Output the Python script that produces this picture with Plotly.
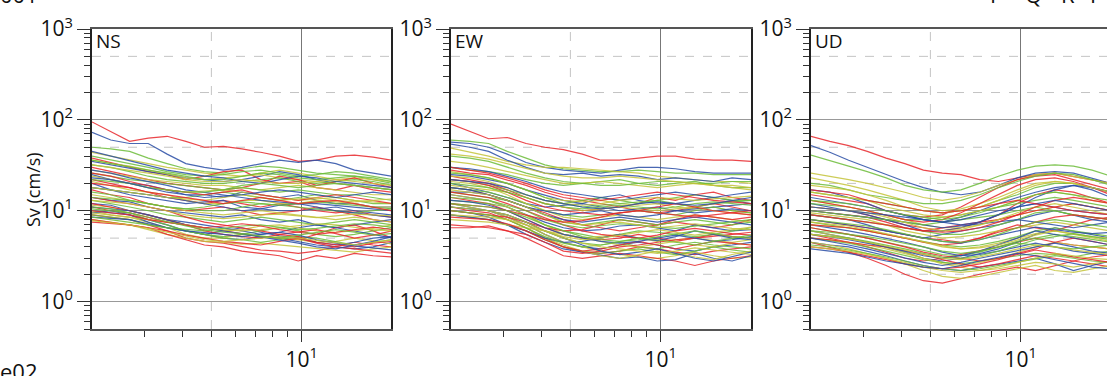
import math
import plotly.graph_objects as go

# ---------------- data ----------------
PERIOD = [2.00, 2.31, 2.67, 3.08, 3.56, 4.11, 4.74, 5.48, 6.32, 7.30, 8.43, 9.74, 11.2, 13.0, 15.0, 17.3, 20.0]

NS_RED = [
    [95, 75, 58, 63, 66, 58, 50, 51, 48, 44, 40, 35, 36, 40, 41, 39, 36],
    [38, 34, 30, 27, 25, 22, 24, 27, 28, 22, 20, 21, 18, 17, 19, 17, 16],
    [30, 27, 24, 22, 20, 19, 18, 17, 18, 20, 24, 22, 19, 21, 23, 20, 18],
    [22, 20, 18, 16, 14, 13, 12, 13, 12, 11, 12, 11, 10, 9.5, 10, 9, 8.5],
    [17, 15, 14, 12, 11, 10, 10.5, 11, 10, 9, 9.5, 10, 11, 10, 9, 8, 7.5],
    [11, 10, 9.5, 8.5, 7.5, 7, 6.5, 6, 5.5, 5.2, 5, 4.8, 5.5, 6.5, 7, 6, 5],
    [9, 8.5, 8, 7, 6, 5, 4.6, 4.4, 4, 3.7, 3.6, 3.4, 3.6, 4, 4.5, 4.2, 4],
    [8, 7.5, 7, 6.5, 5.5, 4.8, 4.2, 4, 3.6, 3.4, 3.2, 2.8, 3.2, 3, 3.4, 3.2, 3.1],
    [12, 11, 10, 9, 8, 7, 6, 5.5, 5.2, 5, 5.5, 5.2, 4.5, 4.2, 4, 4.4, 4.6],
    [26, 24, 21, 19, 17, 16, 15, 16, 17, 15, 14, 13, 14, 15, 14, 13, 12],
    [14, 13, 12, 11, 10, 8.5, 7.5, 7, 6.5, 6, 5.5, 5.8, 6.2, 5.6, 5, 5.4, 6],
    [7.5, 7.2, 7, 6.5, 6, 5.4, 5, 4.6, 4.4, 4.2, 4.6, 5, 4.4, 4, 3.8, 3.6, 3.4],
    [20, 19, 18, 16, 15, 14, 13, 12, 13, 14, 13, 12, 12.5, 13, 12, 11, 10],
    [10, 9.5, 9, 8, 7.5, 7, 6.5, 6.8, 7.2, 6.8, 6.2, 5.8, 5.5, 5.8, 6.2, 6.6, 6.2],
]
NS_BLUE = [
    [73, 60, 55, 55, 42, 33, 30, 28, 30, 33, 36, 34, 36, 33, 28, 26, 24],
    [35, 32, 29, 27, 25, 23, 22, 21, 22, 24, 27, 25, 22, 20, 19, 18, 17],
    [25, 22, 20, 19, 17, 15, 15, 14, 16, 15, 14, 15, 13, 12, 12, 11, 11],
    [20, 17, 15, 14, 13, 12, 12.5, 13, 11, 10.5, 10, 10, 10.5, 11, 10, 9.5, 9],
    [14, 13, 12.5, 11, 10, 9.5, 9, 8.5, 9, 8, 7.5, 8, 7, 6.5, 7, 7.5, 8],
    [10, 9.5, 9, 8, 7, 6, 5.5, 5, 4.8, 5.2, 5, 4.6, 4.2, 4, 3.8, 4, 4.5],
    [9.5, 10, 9, 7.5, 6.5, 6, 5.5, 6, 6.5, 5.8, 5.3, 5, 4.5, 4.2, 4.5, 5, 5.2],
    [12, 11.5, 10, 9, 8, 7.5, 7, 6.5, 6, 5.5, 5.8, 6.5, 7, 6.5, 6, 5.5, 5],
    [28, 26, 23, 21, 19, 17, 16, 15, 14, 13, 12.5, 12, 12, 11.5, 11, 10.5, 10],
    [45, 40, 36, 32, 28, 26, 24, 23, 21, 20, 22, 24, 23, 21, 20, 19, 18],
    [18, 17, 16, 15, 14, 13, 12, 11, 10, 10.5, 11.5, 12, 11, 10, 9.5, 9, 8.5],
    [11, 10.5, 10, 9, 8, 7, 6.5, 6, 5.6, 5.2, 4.8, 4.4, 4.0, 3.8, 4.2, 4.6, 5.2],
    [8.5, 8.2, 8, 7.2, 6.5, 6, 5.8, 5.5, 5.2, 5.5, 5.8, 5.4, 4.8, 4.4, 4.1, 3.9, 3.7],
    [23, 22, 20, 18, 16, 15, 14, 14.5, 15, 16, 17, 16, 15, 14, 15, 16, 15],
]
NS_GREEN = [
    [50, 48, 45, 38, 33, 29, 27, 26, 29, 31, 30, 28, 26, 25, 24, 22, 20],
    [40, 36, 33, 30, 27, 25, 24, 25, 27, 28, 26, 24, 25, 27, 26, 24, 22],
    [32, 30, 27, 24, 22, 21, 20, 20, 21, 22, 23, 21, 20, 21, 22, 21, 19],
    [26, 24, 22, 21, 20, 19, 18, 17, 18, 17, 16, 17, 16, 15, 15, 14, 13],
    [18, 17, 16, 15, 14, 14, 15, 16, 15, 14, 13, 14, 15, 14, 13, 12, 12],
    [13, 12, 11, 10, 9, 8.5, 8, 7.5, 8, 8.5, 8, 7.5, 7, 7.5, 8, 7.5, 7],
    [10.5, 10, 9.5, 8, 7, 6, 5.5, 5.2, 5.5, 6, 6.5, 6, 5.5, 5.2, 5.5, 6, 6.5],
    [9, 8.5, 8, 7, 6.5, 6, 5.5, 5, 4.8, 4.5, 4.8, 5.2, 5, 4.6, 4.2, 4.5, 4.8],
    [16, 15, 13, 12, 11, 10.5, 10, 10, 11, 12, 11.5, 11, 10.5, 10, 9.5, 10, 10.5],
    [36, 33, 30, 28, 26, 24, 22, 22, 24, 26, 25, 23, 22, 23, 24, 23, 21],
    [22, 21, 20, 18, 17, 16, 16, 17, 19, 20, 19, 18, 19, 20, 19, 18, 17],
    [14, 13.5, 13, 12, 11, 10.5, 11, 12, 12.5, 12, 11.5, 12, 12.5, 12, 11.5, 11, 10.5],
    [8.5, 8, 7.5, 7, 6.5, 6.2, 6, 6.4, 6.8, 7, 6.6, 6.2, 6.4, 6.8, 7.2, 7, 6.6],
    [11, 10.5, 9.5, 8.5, 7.5, 6.8, 6.2, 5.8, 5.6, 5.3, 5.0, 5.4, 5.8, 6.2, 5.8, 5.4, 5.6],
]
NS_YELLOW = [
    [44, 40, 36, 33, 30, 28, 26, 25, 24, 26, 28, 26, 24, 22, 23, 22, 21],
    [36, 33, 31, 28, 25, 23, 22, 23, 24, 25, 23, 22, 21, 20, 19, 18, 17],
    [28, 26, 24, 22, 21, 20, 19, 19, 18, 17, 18, 19, 18, 17, 16, 15, 15],
    [21, 19, 17, 16, 15, 13, 12, 12, 13, 13, 12, 12, 13, 12.5, 12, 11, 11],
    [15, 14, 13, 12, 11, 10, 9.5, 9, 9.5, 10, 9.5, 9, 8.5, 8, 8.5, 8, 7.5],
    [10, 9, 8.5, 7.5, 6.5, 5.5, 5, 5, 5.5, 5.2, 5, 4.8, 4.5, 4.6, 5, 4.7, 4.3],
    [8, 7.5, 7, 6.2, 5.5, 5, 4.6, 4.5, 4.3, 4.4, 4.2, 4, 3.8, 3.6, 3.5, 3.8, 4],
    [11.5, 11, 10, 9, 8, 7, 6.5, 6, 6.2, 6.8, 7, 6.5, 6, 5.8, 6, 6.4, 7],
    [24, 22, 20, 18, 17, 16, 16.5, 17, 16, 15, 14, 13, 13.5, 14, 13, 12.5, 12],
    [32, 30, 28, 26, 24, 22, 21, 21, 22, 21, 20, 20, 21, 22, 21, 20, 19],
    [18, 17, 16, 15, 14, 13.5, 13, 14, 15, 14, 13, 13.5, 14, 13, 12.5, 13, 13.5],
    [9.5, 9, 8.5, 8, 7.5, 7, 6.5, 6.2, 6, 6.2, 6.5, 6.8, 7.2, 7, 6.6, 6.2, 6],
    [7.8, 7.4, 7, 6.4, 5.8, 5.2, 4.8, 4.6, 4.8, 5, 5.2, 5, 4.7, 4.4, 4.2, 4.5, 4.8],
    [13, 12.5, 12, 11, 10, 9, 8.5, 8.2, 8.5, 9, 9.2, 8.8, 8.4, 8.8, 9.2, 9, 8.8],
]

EW_RED = [
    [90, 75, 62, 64, 55, 50, 47, 42, 36, 36, 38, 40, 40, 37, 36, 36, 35],
    [28, 26, 25, 22, 19, 16, 14, 13, 12, 11, 12, 14, 13, 15, 16, 14, 13],
    [24, 22, 20, 17, 14, 12, 11, 10, 10.5, 11, 10, 9.5, 10, 11, 12, 11, 10],
    [18, 17, 15, 13, 11, 9.5, 8, 7, 6.5, 6, 6.5, 7, 7.5, 7, 6.5, 7, 8],
    [14, 13, 12, 10, 8, 6.5, 5.5, 5, 4.8, 5, 5.5, 5, 4.6, 5, 5.5, 5.2, 5],
    [11, 10, 9.5, 8, 6.5, 5, 4, 3.5, 3.4, 3.6, 4, 3.8, 3.5, 3.3, 3.6, 3.8, 4],
    [7, 6.8, 6.5, 6, 5, 4, 3.2, 3, 3.2, 3.4, 3.2, 3, 2.8, 2.5, 2.8, 3.0, 3.2],
    [6.5, 6.5, 6.8, 6, 5.5, 4.5, 3.6, 3.4, 3.6, 4, 4.2, 4.5, 4.8, 5, 5.2, 5.5, 5.8],
    [10, 9.5, 9, 8.5, 7.5, 6.5, 6, 6.2, 7, 8, 7.5, 7, 8, 9, 8.5, 8, 8.5],
    [22, 21, 19, 16, 13, 11, 10, 9.5, 9, 9.5, 10, 11, 12, 11, 10, 9.5, 9],
    [16, 15, 14, 12, 10, 8.5, 7, 6, 5.5, 5.2, 5, 5.4, 6, 6.4, 6, 5.6, 5.4],
    [8.5, 8.2, 8, 7.2, 6, 4.8, 4, 3.6, 3.8, 4.2, 4.6, 4.2, 3.8, 4.2, 4.6, 4.4, 4.2],
    [12, 11.5, 11, 10, 9, 8, 7.5, 7.8, 8.5, 9.5, 10, 9.5, 9, 8.5, 9, 9.5, 10],
    [30, 28, 26, 23, 20, 17, 15, 14, 13, 14, 15, 16, 15, 14, 13, 12.5, 12],
]
EW_BLUE = [
    [57, 55, 50, 42, 34, 30, 28, 27, 26, 28, 30, 30, 29, 27, 26, 26, 26],
    [54, 50, 45, 36, 30, 26, 25, 26, 24, 25, 24, 22, 23, 22, 21, 23, 22],
    [25, 24, 22, 20, 17, 15, 13, 12, 14, 15, 13, 12, 12, 13, 14, 13, 12],
    [20, 18, 16, 14, 12, 11, 11.5, 12, 11, 10, 10.5, 11, 10, 10.5, 11, 11.5, 12],
    [15, 14, 13, 11, 9, 7.5, 6.5, 6, 6.2, 6.8, 7, 6.5, 6, 7, 6.5, 6, 6.2],
    [12, 11, 10, 8.5, 7, 5.5, 4.5, 4, 3.8, 4.2, 4.5, 4.2, 3.8, 3.6, 4, 4.2, 4.5],
    [10, 9.5, 8.5, 7, 5.5, 4.5, 3.8, 3.5, 3.2, 3.0, 3.1, 2.8, 2.9, 3.4, 3.0, 2.8, 3.2],
    [9, 8.5, 8, 7, 6, 5, 4.5, 4.6, 5, 5.5, 5, 4.7, 5.2, 6, 5.5, 5, 4.8],
    [16, 16, 15, 13, 11, 10, 9, 9.5, 10, 9, 8.5, 9, 10, 9.5, 10, 10.5, 10],
    [30, 29, 27, 24, 21, 18, 16, 15, 14, 13, 14, 15, 16, 15, 14, 15, 16],
    [18, 17, 15, 13, 11, 9, 8, 7.5, 8, 8.5, 8, 7.5, 8, 8.5, 8, 7.5, 7],
    [13, 12.5, 11.5, 10, 8, 6.5, 5.5, 5, 4.6, 4.4, 4.6, 5, 5.4, 5, 4.6, 4.8, 5.2],
    [11, 10.5, 10, 9, 7.5, 6, 5, 4.2, 3.6, 3.3, 3.5, 3.8, 3.4, 3.0, 2.8, 3.1, 3.5],
    [22, 21, 20, 18, 15, 13, 12, 11, 10.5, 11, 12, 12.5, 12, 11.5, 12, 13, 14],
]
EW_GREEN = [
    [60, 58, 55, 45, 38, 32, 29, 28, 27, 27, 28, 27, 26, 26, 25, 25, 25],
    [30, 28, 27, 25, 22, 20, 19, 20, 21, 22, 20, 19, 20, 21, 19, 18, 18],
    [22, 21, 19, 17, 15, 13, 12, 13, 14, 13, 12, 13, 14, 15, 14, 13, 13],
    [18, 17, 16, 14, 12, 10, 9, 8.5, 9, 9.5, 10, 9.5, 9, 10, 11, 10, 9.5],
    [13, 12.5, 12, 11, 9, 7, 6, 5.5, 5, 5.5, 6, 5.8, 5.5, 5.2, 5.5, 6, 6.5],
    [11, 10.5, 10, 9, 7.5, 6, 5, 4.4, 4.2, 4.5, 4, 3.8, 4.2, 4.5, 4.2, 4, 3.8],
    [9, 8.5, 8, 7, 6, 4.8, 4, 3.6, 3.4, 3.6, 3.8, 3.5, 3.3, 3.6, 4, 3.7, 3.5],
    [26, 25, 23, 20, 17, 14, 12, 11, 11.5, 12, 12.5, 13, 12, 11, 12, 12.5, 13],
    [16, 15, 14, 13, 11, 9, 7.5, 7, 7.5, 8, 7.5, 7, 7.5, 8, 7.5, 7, 7.5],
    [40, 38, 35, 30, 26, 23, 21, 20, 19, 19, 20, 21, 21, 20, 20, 21, 21],
    [20, 19, 18, 16, 14, 12, 11, 10.5, 11, 11.5, 11, 10.5, 11, 12, 12.5, 12, 11.5],
    [14, 13.5, 13, 11.5, 10, 8, 7, 6.5, 6.8, 7.2, 7, 6.6, 6.4, 6.8, 7.2, 7.6, 8],
    [10, 9.5, 9, 8, 6.5, 5.2, 4.4, 4, 4.2, 4.6, 5, 4.8, 4.5, 4.2, 4.6, 5, 5.4],
    [12, 11.5, 11, 10, 8.5, 7, 6, 5.2, 4.8, 4.6, 4.8, 5.2, 5.6, 6, 5.6, 5.2, 5],
]
EW_YELLOW = [
    [49, 44, 40, 35, 32, 30, 30, 29, 28, 27, 26, 24, 23, 22, 21, 21, 20],
    [35, 33, 30, 27, 24, 22, 20, 20, 21, 20, 19, 18, 19, 20, 19, 18, 17],
    [27, 25, 23, 20, 17, 14, 13, 12.5, 13, 12, 11.5, 12, 11, 10.5, 11, 10, 9.5],
    [21, 20, 18, 15, 12, 10, 8.5, 8, 8.5, 9, 8.5, 8, 8.5, 9, 8.5, 8, 7.5],
    [15, 14, 13, 11, 9, 7, 5.5, 5, 5.2, 5.5, 5, 4.6, 4.8, 5, 4.7, 4.5, 4.8],
    [12, 11, 10, 8.5, 7, 5.5, 4.5, 4, 3.6, 3.3, 3.1, 3.0, 3.2, 3.5, 3.2, 3.0, 3.1],
    [10, 9.5, 9, 8, 6.5, 5, 4.2, 3.6, 3.2, 3.0, 3.3, 3.6, 3.4, 3.1, 2.9, 3.3, 3.6],
    [8, 7.8, 7.5, 7, 6.5, 6, 5.5, 5, 4.6, 4.2, 4, 4.3, 4.6, 4.2, 4, 4.4, 4.2],
    [19, 18, 17, 16, 14, 12, 11, 10, 10.5, 11, 10.5, 10, 10.5, 11, 10, 9.5, 9],
    [42, 40, 37, 33, 29, 26, 24, 23, 23, 24, 23, 22, 21, 20, 19, 19, 18],
    [24, 23, 21, 18, 15, 13, 12, 11.5, 12, 13, 13.5, 14, 13.5, 13, 13.5, 14, 14.5],
    [17, 16, 15, 13, 11, 9, 7.5, 7, 7.2, 7.5, 7, 6.5, 6.8, 7.2, 6.8, 6.4, 6.2],
    [11, 10.5, 10, 9, 7.5, 6, 5, 4.4, 4, 3.8, 3.6, 3.4, 3.6, 3.9, 3.7, 3.5, 3.3],
    [9, 8.8, 8.5, 8, 7, 6, 5.2, 4.8, 5, 5.4, 5.8, 6.2, 5.8, 5.4, 5.8, 6.2, 6.6],
]

UD_RED = [
    [66, 58, 52, 45, 38, 33, 28, 26, 25, 22, 21, 23, 25, 26, 24, 22, 20],
    [15, 14, 13, 12, 10, 9, 8.5, 9, 11, 14, 18, 22, 24, 25, 22, 19, 17],
    [11, 10.5, 10, 9, 8, 7, 6.5, 6, 6.5, 7.5, 9, 12, 15, 17, 16, 14, 12],
    [8, 7.5, 7, 6.5, 6, 5.5, 5, 4.8, 4.5, 5, 6, 7, 6.5, 6, 7, 8, 8.5],
    [5.5, 5, 4.5, 4, 3.5, 3.0, 2.8, 3, 3.3, 3.6, 4, 4.5, 5, 4.5, 4.2, 4, 3.8],
    [4.5, 4, 3.5, 3, 2.5, 2.0, 1.7, 1.6, 1.8, 2.0, 2.2, 2.4, 2.2, 2.5, 2.8, 2.6, 2.4],
    [6.5, 6, 5.5, 5, 4.5, 4, 3.5, 3.2, 3.0, 2.8, 3.0, 3.4, 3.8, 4.5, 5.0, 4.6, 4.2],
    [10, 9.5, 9, 8.5, 7.5, 6.5, 6, 6.5, 7, 7.5, 8, 9, 10, 11, 12, 11, 10],
    [5, 4.8, 4.5, 4.2, 4, 3.6, 3.3, 2.9, 2.6, 2.4, 2.6, 2.9, 3.2, 3.0, 2.8, 3.1, 3.3],
    [13, 12, 11, 10, 9, 8, 7.5, 8, 9.5, 12, 15, 19, 22, 23, 21, 18, 15],
    [7, 6.8, 6.5, 6, 5.5, 5, 4.5, 4.2, 4.4, 5, 5.8, 6.5, 7.5, 8.5, 9, 8.5, 8],
    [4, 3.8, 3.5, 3.2, 2.9, 2.6, 2.4, 2.3, 2.4, 2.6, 2.9, 3.3, 3.7, 3.4, 3.1, 2.9, 2.7],
    [9, 8.5, 8, 7.5, 7, 6.5, 6, 5.8, 6, 6.5, 7.5, 9, 11, 13, 14, 13, 12],
    [17, 16, 15, 13, 12, 11, 10, 9.5, 10, 11, 12, 13, 12, 11, 10, 9.5, 9],
]
UD_BLUE = [
    [52, 44, 36, 30, 25, 21, 18, 16, 15, 16, 19, 23, 26, 27, 26, 23, 20],
    [17, 16, 14, 12, 10, 9, 8, 7.5, 8.5, 10, 12, 14, 16, 18, 19, 17, 14],
    [12, 11, 10, 9, 8, 7, 6, 6, 6.5, 7.5, 9, 11, 12, 11, 10, 9.5, 9],
    [9, 8.5, 8, 7, 6, 5.5, 5, 5.5, 6, 6.5, 7, 8, 9, 10, 9, 8, 7.5],
    [6, 5.5, 5, 4.5, 4, 3.5, 3.0, 2.8, 3.0, 3.4, 3.8, 4.5, 5.5, 6.5, 6, 5.5, 5],
    [4.5, 4.2, 4, 3.6, 3.2, 2.8, 2.5, 2.3, 2.2, 2.4, 2.6, 2.8, 3.0, 2.6, 2.2, 2.5, 2.8],
    [7, 6.5, 6, 5.5, 5, 4.5, 4, 3.5, 3.2, 3.3, 3.6, 4, 4.4, 4, 3.6, 3.4, 3.2],
    [10, 9.5, 9, 8.5, 8, 7.5, 7, 6.5, 6.8, 7.2, 7.5, 8, 7.5, 7, 6.5, 7, 7.5],
    [5, 4.6, 4.2, 3.8, 3.4, 3.0, 2.7, 2.5, 2.7, 3.0, 3.3, 3.6, 4.0, 4.4, 4.0, 3.6, 3.4],
    [14, 13, 12, 11, 10, 9, 8, 7.5, 7, 7.5, 9, 11, 14, 17, 19, 18, 16],
    [8, 7.5, 7, 6.5, 6, 5.5, 5, 4.6, 4.4, 4.8, 5.4, 6, 6.6, 6.2, 5.8, 5.6, 5.8],
    [5.5, 5.2, 4.8, 4.4, 4, 3.6, 3.2, 3.0, 3.2, 3.6, 4.2, 5, 6, 5.5, 5, 4.6, 4.2],
    [11, 10.5, 10, 9.5, 9, 8.5, 8, 7.5, 8, 9, 10, 11, 12, 13, 12, 11, 10],
    [3.8, 3.6, 3.4, 3.1, 2.8, 2.6, 2.4, 2.3, 2.5, 2.8, 3.1, 3.4, 3.2, 2.9, 2.6, 2.4, 2.3],
]
UD_GREEN = [
    [41, 36, 31, 27, 23, 19, 17, 16, 17, 20, 24, 28, 31, 32, 31, 28, 24],
    [16, 15, 14, 13, 12, 11, 10, 9.5, 10, 11, 13, 15, 18, 20, 20, 18, 16],
    [12, 11.5, 11, 10, 9, 8, 8, 8.5, 9, 10, 11, 12, 13, 14, 13, 12, 11],
    [9, 8.5, 8, 7.5, 7, 6.5, 6, 5.5, 5.5, 6, 7, 8, 9.5, 10, 9, 8.5, 8],
    [6.5, 6, 5.5, 5, 4.5, 4, 3.6, 3.3, 3.2, 3.5, 4, 4.6, 5, 5.5, 5.2, 4.8, 4.5],
    [5, 4.7, 4.4, 4, 3.6, 3.2, 2.9, 2.7, 2.6, 2.8, 3.0, 3.2, 3.4, 3.3, 3.1, 3.4, 3.6],
    [7.5, 7, 6.5, 6, 5.5, 5, 4.6, 4.2, 4, 4.2, 4.6, 5.2, 6, 6.5, 6, 5.6, 5.2],
    [10, 9.5, 9, 8.5, 8, 7.5, 7, 7.5, 8, 8.5, 9, 10, 11, 10, 9, 8.5, 8],
    [4.2, 4, 3.7, 3.4, 3.1, 2.8, 2.5, 2.3, 2.2, 2.3, 2.5, 2.7, 2.9, 3.2, 3.0, 2.8, 2.7],
    [20, 19, 17, 15, 14, 13, 12, 12, 13, 15, 18, 21, 24, 26, 25, 22, 19],
    [13, 12.5, 12, 11, 10, 9, 8.5, 8, 8.5, 9.5, 11, 13, 15, 16, 15, 14, 13],
    [8, 7.6, 7.2, 6.8, 6.2, 5.6, 5, 4.6, 4.5, 4.8, 5.5, 6.5, 7.5, 8, 7.5, 7, 6.5],
    [5.5, 5.2, 5, 4.6, 4.2, 3.8, 3.4, 3.1, 3.0, 3.2, 3.6, 4.2, 4.8, 5.2, 5.6, 5.2, 4.8],
    [6, 5.8, 5.5, 5.2, 4.8, 4.4, 4, 3.6, 3.4, 3.6, 4, 4.4, 4.2, 4, 3.8, 4, 4.2],
]
UD_YELLOW = [
    [26, 24, 22, 20, 18, 16, 14, 13, 14, 16, 19, 22, 25, 26, 24, 22, 20],
    [23, 21, 19, 17, 15, 13, 11, 10, 10.5, 12, 14, 17, 20, 21, 20, 18, 16],
    [13, 12, 11, 10, 9, 8, 7, 6.5, 6.5, 7, 8, 9, 10, 11, 12, 11, 10],
    [9.5, 9, 8.5, 8, 7, 6, 5.5, 5, 5.2, 5.5, 6, 6.5, 7, 7.5, 7, 6.5, 6],
    [6, 5.5, 5, 4.5, 4, 3.5, 3, 2.7, 2.5, 2.7, 3, 3.5, 4, 4.5, 4.2, 4, 3.8],
    [4.5, 4.2, 3.8, 3.4, 3, 2.6, 2.2, 1.9, 1.8, 1.9, 2.1, 2.3, 2.5, 2.2, 2.1, 2.3, 2.5],
    [5, 4.8, 4.5, 4.2, 3.8, 3.4, 3.0, 2.6, 2.4, 2.2, 2.3, 2.5, 2.7, 2.6, 2.4, 2.6, 2.8],
    [16, 15, 14, 13, 11, 10, 9, 8.5, 9, 10, 11, 13, 15, 16, 15, 13, 12],
    [7, 6.8, 6.5, 6, 5.5, 5, 4.5, 4, 3.8, 4, 4.4, 5, 5.6, 6, 5.5, 5, 4.6],
    [19, 18, 17, 15, 13, 11, 10, 9.5, 10, 11, 13, 16, 19, 21, 20, 18, 16],
    [11, 10.5, 10, 9.5, 8.5, 7.5, 6.5, 6, 6.2, 7, 8, 9.5, 11, 12, 11, 10, 9],
    [7.5, 7.2, 6.8, 6.2, 5.6, 5, 4.5, 4.1, 3.8, 3.9, 4.2, 4.8, 5.4, 6, 5.6, 5.2, 5],
    [4, 3.8, 3.6, 3.3, 3, 2.7, 2.4, 2.2, 2.1, 2.2, 2.4, 2.7, 3.0, 3.4, 3.2, 3.0, 2.9],
    [5.5, 5.2, 4.9, 4.5, 4.1, 3.7, 3.3, 3.0, 2.9, 3.1, 3.4, 3.8, 4.2, 4.0, 3.7, 3.5, 3.3],
]

PANEL_NAMES = ["NS", "EW", "UD"]
Y_TICKS = [1, 10, 100, 1000]
Y_TICKTEXT = ["10<sup>0</sup>", "10<sup>1</sup>", "10<sup>2</sup>", "10<sup>3</sup>"]
Y_MINOR = [0.5, 0.6, 0.7, 0.8, 0.9, 2, 3, 4, 5, 6, 7, 8, 9,
           20, 30, 40, 50, 60, 70, 80, 90, 200, 300, 400, 500, 600, 700, 800, 900]
X_TICKS = [10]
X_TICKTEXT = ["10<sup>1</sup>"]
X_MINOR = [3, 4, 5, 6, 7, 8, 9]
GRID_Y_DASH = [2, 5, 20, 50, 200, 500]
GRID_X_DASH = [5]

# ---------------- styling ----------------
W, H = 1107, 376
COLORS = {"red": "#e8272c", "blue": "#2a4ea6", "green": "#6dbd3a", "yellow": "#c5c43a"}
FONT = "Open Sans"

panels = [
    {"red": NS_RED, "blue": NS_BLUE, "green": NS_GREEN, "yellow": NS_YELLOW},
    {"red": EW_RED, "blue": EW_BLUE, "green": EW_GREEN, "yellow": EW_YELLOW},
    {"red": UD_RED, "blue": UD_BLUE, "green": UD_GREEN, "yellow": UD_YELLOW},
]

px_left = [92, 451, 811]
px_right = [391, 751, 1107]
decade_px = 300.0
top_px, bot_px = 29, 329
ydom = [(H - bot_px) / H, (H - top_px) / H]

fig = go.Figure()

for p, series in enumerate(panels):
    ax = "" if p == 0 else str(p + 1)
    n = len(series["red"])
    for i in range(n):
        for cname in ["red", "blue", "green", "yellow"]:
            fig.add_trace(go.Scatter(
                x=PERIOD, y=series[cname][i], mode="lines",
                line=dict(color=COLORS[cname], width=1.2),
                opacity=0.85, showlegend=False, hoverinfo="skip",
                xaxis="x" + ax, yaxis="y" + ax,
            ))

    x0 = math.log10(2)
    x1 = x0 + (px_right[p] - px_left[p]) / decade_px
    fig.layout["xaxis" + ax] = dict(
        type="log", range=[x0, x1], domain=[px_left[p] / W, px_right[p] / W],
        anchor="y" + ax, showline=True, mirror=True, linecolor="#555", linewidth=2,
        automargin=False,
        ticks="outside", ticklen=11, tickwidth=1.3, tickcolor="#333",
        tickmode="array", tickvals=X_TICKS, ticktext=X_TICKTEXT,
        tickfont=dict(family=FONT, size=21, color="#111"),
        showgrid=True, gridcolor="#777", gridwidth=1, zeroline=False,
        minor=dict(tickmode="array", tickvals=X_MINOR, ticks="outside", ticklen=6,
                   tickwidth=1.3, tickcolor="#333", showgrid=False),
        fixedrange=True,
    )
    fig.layout["yaxis" + ax] = dict(
        type="log", range=[math.log10(0.5), 3], domain=ydom,
        anchor="x" + ax, showline=True, mirror=(p < 2), linecolor="#222", linewidth=1.6,
        automargin=False,
        ticks="outside", ticklen=13, tickwidth=1.3, tickcolor="#333",
        tickmode="array", tickvals=Y_TICKS, ticktext=Y_TICKTEXT,
        tickfont=dict(family=FONT, size=21, color="#111"),
        showgrid=True, gridcolor="#999", gridwidth=1.2, zeroline=False,
        minor=dict(tickmode="array", tickvals=Y_MINOR, ticks="outside", ticklen=6,
                   tickwidth=1.3, tickcolor="#333", showgrid=False),
        fixedrange=True,
    )

    for gy in GRID_Y_DASH:
        fig.add_shape(type="line", xref="x" + ax + " domain", yref="y" + ax,
                      x0=0, x1=1, y0=gy, y1=gy, layer="below",
                      line=dict(color="#c4c4c4", width=1, dash="dash"))
    for gx in GRID_X_DASH:
        fig.add_shape(type="line", xref="x" + ax, yref="y" + ax + " domain",
                      x0=gx, x1=gx, y0=0, y1=1, layer="below",
                      line=dict(color="#c4c4c4", width=1, dash="dash"))

    fig.add_annotation(text=PANEL_NAMES[p], xref="x" + ax + " domain", yref="y" + ax + " domain",
                       x=0.006, y=1.01, xanchor="left", yanchor="top", showarrow=False,
                       font=dict(family=FONT, size=19, color="#111"))

fig.add_annotation(text="Sv (cm/s)", xref="paper", yref="paper", x=33 / W, y=1 - 190 / H,
                   xanchor="center", yanchor="middle", textangle=-90, showarrow=False,
                   font=dict(family=FONT, size=18, color="#111"))

# fragments of neighbouring labels cut off by the figure edges
fig.add_annotation(text="001", xref="paper", yref="paper", x=-2 / W, y=1 - 11 / H,
                   xanchor="left", yanchor="bottom", showarrow=False,
                   font=dict(family=FONT, size=22, color="#111"))
fig.add_annotation(text="e02", xref="paper", yref="paper", x=-2 / W, y=1 - 354 / H,
                   xanchor="left", yanchor="top", showarrow=False,
                   font=dict(family=FONT, size=22, color="#111"))
for lbl, lx in zip(["P", "Q", "R", "T"], [996, 1033, 1068, 1093]):
    fig.add_annotation(text=lbl, xref="paper", yref="paper", x=lx / W, y=1 - 11 / H,
                       xanchor="center", yanchor="bottom", showarrow=False,
                       font=dict(family=FONT, size=22, color="#111"))

fig.update_layout(
    width=W, height=H, margin=dict(l=0, r=0, t=0, b=0, autoexpand=False),
    paper_bgcolor="white", plot_bgcolor="white", showlegend=False,
)

fig.write_html("out.html", config={"displayModeBar": False},
               post_script="document.body.style.margin='0';document.body.style.overflow='hidden';")
